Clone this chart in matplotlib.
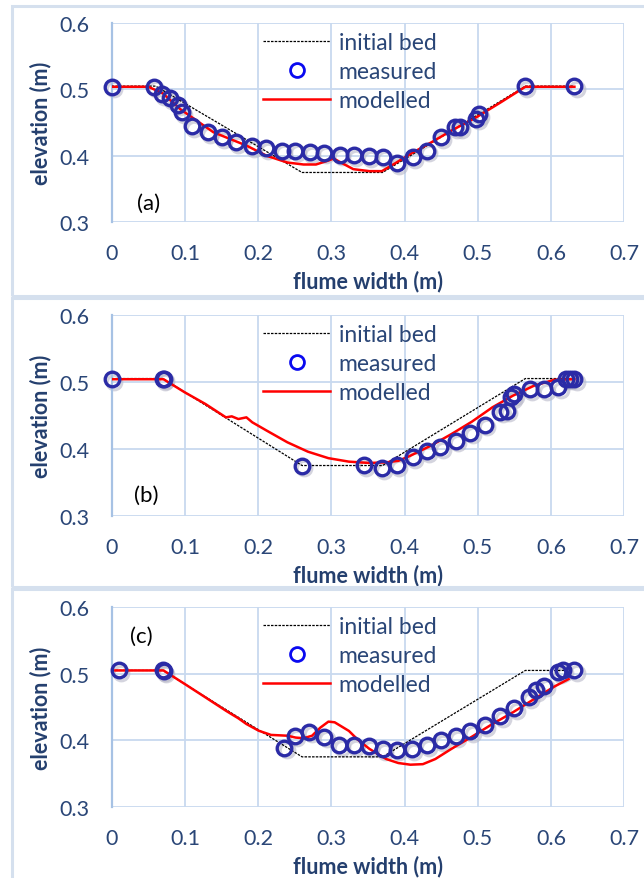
import matplotlib
matplotlib.use("Agg")
import matplotlib.pyplot as plt
from matplotlib.patches import Rectangle
from matplotlib.lines import Line2D
from matplotlib.ticker import FuncFormatter

plt.rcParams['font.family'] = ['Lato', 'DejaVu Sans']

# ---------------- data ----------------
# panel (a)
a_meas_x = [0.0, 0.058, 0.069, 0.080, 0.090, 0.096, 0.110, 0.131, 0.150, 0.170, 0.191,
            0.211, 0.232, 0.251, 0.271, 0.290, 0.312, 0.331, 0.351, 0.370, 0.389,
            0.411, 0.431, 0.450, 0.469, 0.476, 0.498, 0.501, 0.564, 0.632]
a_meas_y = [0.504, 0.504, 0.493, 0.487, 0.477, 0.466, 0.4445, 0.436, 0.428, 0.421, 0.415,
            0.412, 0.408, 0.408, 0.406, 0.405, 0.402, 0.401, 0.400, 0.399, 0.389,
            0.398, 0.408, 0.428, 0.443, 0.443, 0.456, 0.463, 0.505, 0.505]
a_init_x = [0.0, 0.06, 0.26, 0.37, 0.565, 0.63]
a_init_y = [0.505, 0.505, 0.375, 0.375, 0.505, 0.505]
a_mod_x = [0.0, 0.050, 0.070, 0.094, 0.139, 0.184, 0.212, 0.240, 0.262, 0.279, 0.296,
           0.303, 0.313, 0.330, 0.352, 0.369, 0.386, 0.408, 0.436, 0.464, 0.498,
           0.532, 0.565, 0.632]
a_mod_y = [0.504, 0.504, 0.494, 0.470, 0.4355, 0.4155, 0.400, 0.390, 0.387, 0.387, 0.393,
           0.396, 0.390, 0.380, 0.377, 0.377, 0.388, 0.403, 0.420, 0.438, 0.458,
           0.481, 0.504, 0.504]

# panel (b)
b_meas_x = [0.0, 0.070, 0.071, 0.260, 0.345, 0.369, 0.389, 0.411, 0.431, 0.449, 0.470,
            0.490, 0.510, 0.531, 0.540, 0.546, 0.549, 0.571, 0.591, 0.610, 0.620,
            0.626, 0.632]
b_meas_y = [0.504, 0.504, 0.505, 0.375, 0.376, 0.371, 0.376, 0.387, 0.396, 0.402, 0.412,
            0.424, 0.436, 0.4555, 0.457, 0.477, 0.482, 0.489, 0.489, 0.492, 0.505,
            0.505, 0.504]
b_init_x = [0.0, 0.07, 0.26, 0.37, 0.565, 0.63]
b_init_y = [0.505, 0.505, 0.375, 0.375, 0.505, 0.505]
b_mod_x = [0.0, 0.0707, 0.0998, 0.128, 0.156, 0.164, 0.173, 0.184, 0.192, 0.212, 0.240,
           0.268, 0.296, 0.324, 0.352, 0.375, 0.3915, 0.408, 0.436, 0.464, 0.492,
           0.520, 0.548, 0.577, 0.605, 0.632]
b_mod_y = [0.504, 0.504, 0.4844, 0.467, 0.447, 0.4485, 0.4445, 0.447, 0.4396, 0.427, 0.4097,
           0.3957, 0.386, 0.3808, 0.3788, 0.3798, 0.382, 0.3897, 0.4047, 0.422, 0.4406,
           0.462, 0.4794, 0.4944, 0.5033, 0.504]

# panel (c)
c_meas_x = [0.010, 0.070, 0.071, 0.236, 0.250, 0.270, 0.2905, 0.311, 0.331, 0.351, 0.370,
            0.389, 0.410, 0.431, 0.450, 0.470, 0.490, 0.510, 0.531, 0.550, 0.570,
            0.579, 0.591, 0.610, 0.616, 0.632]
c_meas_y = [0.5057, 0.5057, 0.504, 0.389, 0.407, 0.413, 0.4053, 0.393, 0.393, 0.391, 0.387,
            0.386, 0.387, 0.393, 0.400, 0.406, 0.414, 0.423, 0.436, 0.448, 0.4645,
            0.4756, 0.482, 0.502, 0.5057, 0.505]
c_init_x = [0.0, 0.07, 0.26, 0.37, 0.565, 0.63]
c_init_y = [0.505, 0.505, 0.375, 0.375, 0.505, 0.505]
c_mod_x = [0.005, 0.0707, 0.0998, 0.128, 0.156, 0.164, 0.173, 0.184, 0.2008, 0.2176, 0.240,
           0.2513, 0.262, 0.2737, 0.285, 0.296, 0.3045, 0.324, 0.335, 0.352, 0.375,
           0.3915, 0.408, 0.425, 0.442, 0.464, 0.492, 0.520, 0.548, 0.577, 0.605, 0.624]
c_mod_y = [0.505, 0.505, 0.4846, 0.4645, 0.4444, 0.439, 0.433, 0.4244, 0.4143, 0.408, 0.4068,
           0.404, 0.403, 0.4068, 0.419, 0.428, 0.427, 0.414, 0.402, 0.387, 0.3717,
           0.3657, 0.3632, 0.364, 0.3717, 0.387, 0.4053, 0.4244, 0.442, 0.462, 0.481, 0.492]

panel_labels = ['(a)', '(b)', '(c)']
label_pos = [(0.051, 0.330), (0.047, 0.331), (0.041, 0.557)]
x_ticks = [0, 0.1, 0.2, 0.3, 0.4, 0.5, 0.6, 0.7]
y_ticks = [0.3, 0.4, 0.5, 0.6]
legend_labels = ['initial bed', 'measured', 'modelled']

panels = [
    (a_meas_x, a_meas_y, a_init_x, a_init_y, a_mod_x, a_mod_y),
    (b_meas_x, b_meas_y, b_init_x, b_init_y, b_mod_x, b_mod_y),
    (c_meas_x, c_meas_y, c_init_x, c_init_y, c_mod_x, c_mod_y),
]

# ---------------- style ----------------
W, H = 644, 879
fig = plt.figure(figsize=(W / 100, H / 100), dpi=100)
fig.patch.set_facecolor('white')

TXT = '#2A4677'
LBL = '#243F6E'
GRID = '#C8D9EF'
MARK = '#2B2BA6'

axes_px = [(24, 223.3), (316, 516.7), (608.3, 807.7)]
frames_px = [(7.3, 296.7), (299.3, 588.3), (590, 885)]
left_px, right_px = 111.7, 624.2

for (ft, fb) in frames_px:
    fig.patches.append(Rectangle((12 / W, 1 - fb / H), (W + 10 - 12) / W, (fb - ft) / H,
                                 transform=fig.transFigure, fill=False,
                                 edgecolor='#D5E0EE', linewidth=2.2, zorder=0))

for i, ((top, bot), data) in enumerate(zip(axes_px, panels)):
    mx, my, ix, iy, mdx, mdy = data
    ax = fig.add_axes([left_px / W, 1 - bot / H, (right_px - left_px) / W, (bot - top) / H])
    ax.set_xlim(0, 0.7)
    ax.set_ylim(0.3, 0.6)
    ax.set_xticks(x_ticks)
    ax.set_yticks(y_ticks)
    ax.xaxis.set_major_formatter(FuncFormatter(lambda v, p: '0' if abs(v) < 1e-9 else f'{v:.1f}'))
    ax.yaxis.set_major_formatter(FuncFormatter(lambda v, p: f'{v:.1f}'))
    ax.grid(True, color=GRID, linewidth=1.3)
    ax.set_axisbelow(True)
    for s in ['top', 'right', 'bottom']:
        ax.spines[s].set_visible(False)
    ax.spines['left'].set_color('#A7C2E4')
    ax.spines['left'].set_linewidth(1.6)
    ax.tick_params(length=0, labelsize=15.5, labelcolor=TXT)
    ax.tick_params(axis='x', pad=15)
    ax.tick_params(axis='y', pad=16)

    # shadow for markers
    ax.plot([x + 0.003 for x in mx], [y - 0.004 for y in my], 'o', ms=10.5,
            mfc='none', mec='#B8B8C8', mew=2.3, alpha=0.6, zorder=2, clip_on=False)
    ax.plot(ix, iy, linestyle=(0, (2, 1)), color='black', linewidth=0.9, zorder=3)
    ax.plot(mdx, mdy, color='#FF0000', linewidth=1.8, zorder=4)
    ax.plot(mx, my, 'o', ms=10.5, mfc='none', mec=MARK, mew=2.4, zorder=5, clip_on=False)

    ax.set_xlabel('flume width (m)', fontsize=15.5, fontweight='bold', color=LBL, labelpad=5)
    ax.set_ylabel('elevation (m)', fontsize=15.5, fontweight='bold', color=LBL, labelpad=6)

    ax.text(label_pos[i][0], label_pos[i][1], panel_labels[i], fontsize=16,
            color='black', ha='center', va='center')

    h1 = Line2D([], [], linestyle=(0, (2, 1)), color='black', linewidth=0.9)
    h2 = Line2D([], [], linestyle='none', marker='o', ms=10, mfc='none', mec='#0A0AF0', mew=2)
    h3 = Line2D([], [], color='#FF0000', linewidth=1.8)
    leg = ax.legend([h1, h2, h3], legend_labels, loc='upper left',
                    bbox_to_anchor=(0.295, 0.957), frameon=False, fontsize=16.5,
                    handlelength=2.95, handletextpad=0.35, labelspacing=0.36,
                    borderaxespad=0, borderpad=0)
    for t in leg.get_texts():
        t.set_color(TXT)

fig.savefig('out.png', dpi=100)
